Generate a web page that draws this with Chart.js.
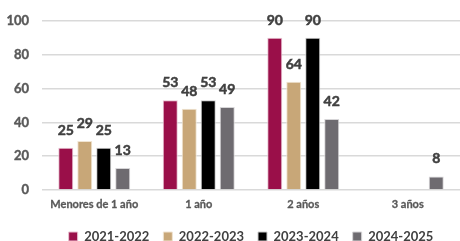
<!DOCTYPE html>
<html>
<head>
<meta charset="utf-8">
<script src="https://cdn.jsdelivr.net/npm/chart.js@4"></script>
<style>
  html, body { margin: 0; padding: 0; background: #fff; }
  #wrap { width: 460px; height: 241px; }
</style>
</head>
<body>
<div id="wrap"><canvas id="chart"></canvas></div>
<script>
const categories = ["Menores de 1 año", "1 año", "2 años", "3 años"];
const s2021 = [25, 53, 90, null];
const s2022 = [29, 48, 64, null];
const s2023 = [25, 53, 90, null];
const s2024 = [13, 49, 42, 8];
const yTicks = [0, 20, 40, 60, 80, 100];

// simple value labels above the bars
const valueLabels = {
  id: "valueLabels",
  afterDatasetsDraw(chart) {
    const ctx = chart.ctx;
    ctx.save();
    ctx.font = "bold 14px Lato";
    ctx.fillStyle = "#404040";
    ctx.strokeStyle = "#404040";
    ctx.lineWidth = 0.5;
    ctx.textAlign = "center";
    ctx.textBaseline = "alphabetic";
    chart.data.datasets.forEach((ds, i) => {
      chart.getDatasetMeta(i).data.forEach((bar, j) => {
        if (ds.data[j] == null) return;
        ctx.fillText(ds.data[j], bar.x, bar.y - 13);
        ctx.strokeText(ds.data[j], bar.x, bar.y - 13);
      });
    });
    ctx.restore();
  },
};

const ctx = document.getElementById("chart").getContext("2d");
new Chart(ctx, {
  type: "bar",
  data: {
    labels: categories,
    datasets: [
      { label: "2021-2022", data: s2021, backgroundColor: "#9A0F49", borderColor: "#e8c3d2", borderWidth: 1 },
      { label: "2022-2023", data: s2022, backgroundColor: "#C8A778", borderColor: "#f0e4d2", borderWidth: 1 },
      { label: "2023-2024", data: s2023, backgroundColor: "#000000", borderColor: "#cccccc", borderWidth: 1 },
      { label: "2024-2025", data: s2024, backgroundColor: "#6E6B70", borderColor: "#d6d5d7", borderWidth: 1 },
    ],
  },
  options: {
    responsive: true,
    maintainAspectRatio: false,
    animation: { duration: 0 },
    layout: { padding: { top: 3, right: 0, left: 0, bottom: -12 } },
    datasets: { bar: { barPercentage: 0.79, categoryPercentage: 0.727, skipNull: false } },
    scales: {
      x: {
        afterFit(axis) { axis.height = 26; },
        grid: { display: false, drawTicks: false },
        border: { display: false },
        ticks: {
          color: "#595959", font: { family: "Lato", size: 11, weight: "bold" }, padding: 8,
          textStrokeColor: "#595959", textStrokeWidth: 0.3,
        },
      },
      y: {
        min: 0,
        max: 100,
        afterBuildTicks(axis) { axis.ticks = yTicks.map(v => ({ value: v })); },
        afterFit(axis) { axis.width = 42; },
        grid: { color: "#d9d9d9", lineWidth: 1.5, drawTicks: false },
        border: { display: false },
        ticks: {
          color: "#595959", font: { family: "Lato", size: 13, weight: "bold" }, padding: 13,
          textStrokeColor: "#595959", textStrokeWidth: 0.4,
        },
      },
    },
    plugins: {
      legend: {
        position: "bottom",
        fullSize: false,
        labels: {
          color: "#404040",
          font: { family: "Lato", size: 13, weight: "bold" },
          boxWidth: 9,
          boxHeight: 9,
          padding: 14,
        },
      },
      tooltip: { enabled: false },
    },
  },
  plugins: [valueLabels],
});
</script>
</body>
</html>
